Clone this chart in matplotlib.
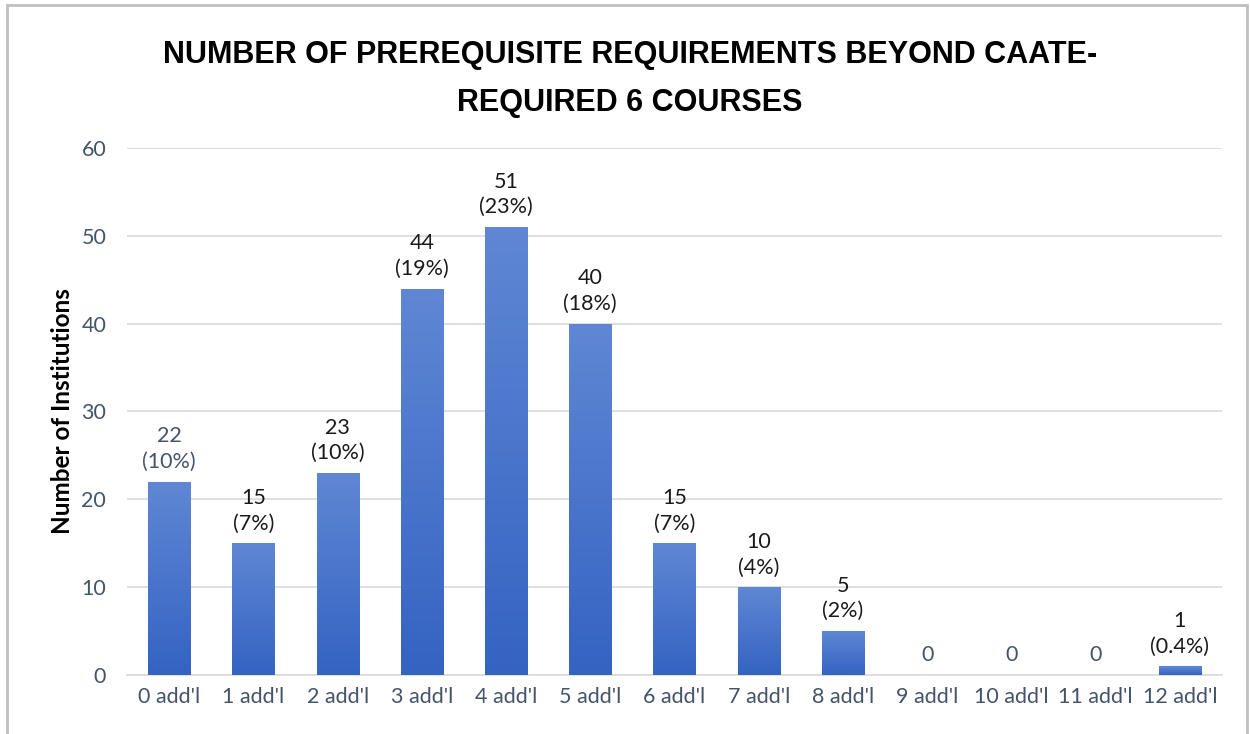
import numpy as np
import matplotlib
matplotlib.use("Agg")
import matplotlib.pyplot as plt
from matplotlib.patches import Rectangle

# === Data ===
categories = ["0 add'l", "1 add'l", "2 add'l", "3 add'l", "4 add'l", "5 add'l", "6 add'l",
              "7 add'l", "8 add'l", "9 add'l", "10 add'l", "11 add'l", "12 add'l"]
counts = [22, 15, 23, 44, 51, 40, 15, 10, 5, 0, 0, 0, 1]
pct_labels = ["10%", "7%", "10%", "19%", "23%", "18%", "7%", "4%", "2%", "", "", "", "0.4%"]

title = "NUMBER OF PREREQUISITE REQUIREMENTS BEYOND CAATE-\nREQUIRED 6 COURSES"
ylabel = "Number of Institutions"

tick_color = "#44546A"
grid_color = "#D9D9D9"

plt.rcParams["font.family"] = ["Lato", "DejaVu Sans"]

fig = plt.figure(figsize=(12.5, 7.34), dpi=100)
ax = fig.add_axes([0.1016, 0.0804, 0.876, 0.718])

# outer frame like the pasted chart
fig.patches.append(Rectangle((7 / 1250, -0.01), 1240 / 1250, 1 - 5 / 734 + 0.01,
                             transform=fig.transFigure, fill=False,
                             edgecolor="#BFBFBF", linewidth=2))

x = np.arange(len(categories))
bars = ax.bar(x, counts, width=0.5, color="#4472C4", zorder=2)

# vertical gradient inside each bar
grad = np.linspace(0, 1, 256).reshape(-1, 1)
cmap = matplotlib.colors.LinearSegmentedColormap.from_list("g", ["#3463C2", "#5F87D4"])
for b in bars:
    if b.get_height() <= 0:
        continue
    im = ax.imshow(grad, extent=(b.get_x(), b.get_x() + b.get_width(), 0, b.get_height()),
                   origin="lower", aspect="auto", cmap=cmap, zorder=3)
    im.set_clip_path(b)

for i, (c, p) in enumerate(zip(counts, pct_labels)):
    txt = f"{c}\n({p})" if p else f"{c}"
    col = tick_color if (i == 0 or c == 0) else "#1A1A1A"
    ax.annotate(txt, (x[i], c), xytext=(0, 7), textcoords="offset points",
                ha="center", va="bottom", fontsize=15.5, color=col, linespacing=1.35)

ax.set_xlim(-0.5, len(categories) - 0.5)
ax.set_ylim(0, 60)
ax.set_yticks(range(0, 61, 10))
ax.set_xticks(x)
ax.set_xticklabels(categories)
ax.tick_params(axis="both", length=0, labelsize=15.5, colors=tick_color)
ax.tick_params(axis="y", pad=15)
ax.tick_params(axis="x", pad=9)
ax.grid(axis="y", color=grid_color, linewidth=1.2, zorder=0)
ax.set_axisbelow(True)
for s in ["top", "right", "left"]:
    ax.spines[s].set_visible(False)
ax.spines["bottom"].set_color(grid_color)
ax.spines["bottom"].set_linewidth(1.2)

ax.set_ylabel(ylabel, fontsize=17.5, fontweight="bold", color="black", labelpad=5)

fig.text(0.504, 0.945, title, ha="center", va="top", fontsize=22, fontweight="bold",
         family=["Liberation Sans", "DejaVu Sans"], linespacing=1.75)

fig.savefig("out.png", dpi=100, facecolor="white")
